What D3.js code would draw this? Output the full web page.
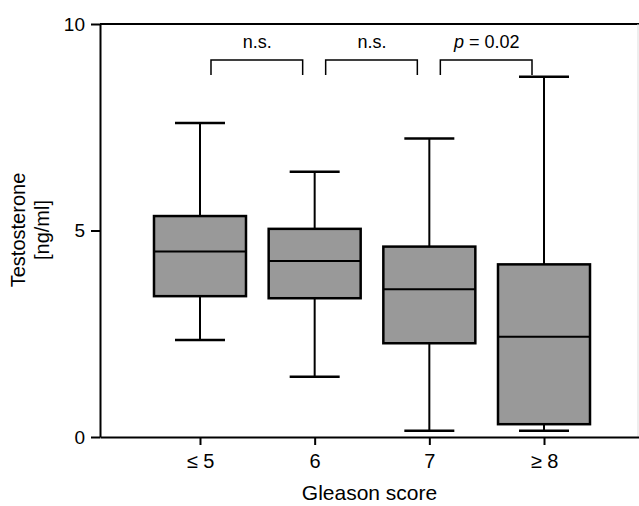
<!DOCTYPE html>
<html>
<head>
<meta charset="utf-8">
<script src="https://cdn.jsdelivr.net/npm/d3@7"></script>
<style>
body { margin: 0; background: #fff; }
text { font-family: "Liberation Sans", Arial, sans-serif; fill: #000; }
</style>
</head>
<body>
<svg width="639" height="506"></svg>
<script>
const categories = ["≤ 5", "6", "7", "≥ 8"];
const whiskerLow = [2.35, 1.46, 0.15, 0.15];
const q1 = [3.41, 3.36, 2.27, 0.31];
const medians = [4.49, 4.26, 3.58, 2.43];
const q3 = [5.35, 5.04, 4.61, 4.18];
const whiskerHigh = [7.6, 6.42, 7.23, 8.72];
const yTicks = [0, 5, 10];
const comparisons = [["≤ 5", "6", "n.s."], ["6", "7", "n.s."], ["7", "≥ 8", "p = 0.02"]];

const svg = d3.select("svg");
const width = +svg.attr("width");
const height = +svg.attr("height");
const margin = { top: 24, right: 0, bottom: 69, left: 100 };
const innerWidth = width - margin.left - margin.right;
const innerHeight = height - margin.top - margin.bottom;
const g = svg.append("g").attr("transform", "translate(" + margin.left + "," + margin.top + ")");

const x = d3.scalePoint().domain(categories).range([0, 544]).padding(0.872);
const y = d3.scaleLinear().domain([0, 10]).range([innerHeight, 0]);

const boxes = categories.map((c, i) => ({
  cat: c, lo: whiskerLow[i], q1: q1[i], med: medians[i], q3: q3[i], hi: whiskerHigh[i]
}));

// frame: top line + faint right edge
g.append("line").attr("x1", 0).attr("x2", innerWidth).attr("y1", 0).attr("y2", 0)
  .attr("stroke", "#000").attr("stroke-width", 2);
g.append("line").attr("x1", innerWidth - 1).attr("x2", innerWidth - 1).attr("y1", 0).attr("y2", innerHeight)
  .attr("stroke", "#ddd").attr("stroke-width", 1);

// axes
const yAxis = d3.axisLeft(y).tickValues(yTicks).tickSize(9).tickSizeOuter(0).tickPadding(6);
const ya = g.append("g").call(yAxis);
ya.selectAll("text").style("font-size", "19px");

const xAxis = d3.axisBottom(x).tickSize(8).tickSizeOuter(0).tickPadding(9);
const xa = g.append("g").attr("transform", "translate(0," + innerHeight + ")").call(xAxis);
xa.selectAll("text").style("font-size", "20px");

[ya, xa].forEach(a => {
  a.select(".domain").attr("stroke", "#000").attr("stroke-width", 2);
  a.selectAll(".tick line").attr("stroke", "#000").attr("stroke-width", 2);
});

// boxes
const boxW = 92, capW = 50;
const bg = g.selectAll(".box").data(boxes).enter().append("g").attr("class", "box");
bg.append("line").attr("x1", d => x(d.cat)).attr("x2", d => x(d.cat))
  .attr("y1", d => y(d.hi)).attr("y2", d => y(d.lo))
  .attr("stroke", "#000").attr("stroke-width", 2);
bg.selectAll(".cap").data(d => [[d.cat, d.hi], [d.cat, d.lo]]).enter().append("line")
  .attr("x1", d => x(d[0]) - capW / 2).attr("x2", d => x(d[0]) + capW / 2)
  .attr("y1", d => y(d[1])).attr("y2", d => y(d[1]))
  .attr("stroke", "#000").attr("stroke-width", 2.5);
bg.append("rect").attr("x", d => x(d.cat) - boxW / 2).attr("width", boxW)
  .attr("y", d => y(d.q3)).attr("height", d => y(d.q1) - y(d.q3))
  .attr("fill", "#999").attr("stroke", "#000").attr("stroke-width", 2.5);
bg.append("line").attr("x1", d => x(d.cat) - boxW / 2).attr("x2", d => x(d.cat) + boxW / 2)
  .attr("y1", d => y(d.med)).attr("y2", d => y(d.med))
  .attr("stroke", "#000").attr("stroke-width", 2);

// significance brackets
const br = g.selectAll(".bracket").data(comparisons).enter().append("g");
br.append("path")
  .attr("d", d => {
    const a = x(d[0]) + 11, b = x(d[1]) - 12;
    return "M" + a + "," + 51 + "V" + 36 + "H" + b + "V" + 51;
  })
  .attr("fill", "none").attr("stroke", "#000").attr("stroke-width", 1.5);
br.append("text")
  .attr("x", d => (x(d[0]) + x(d[1])) / 2)
  .attr("y", 24)
  .attr("text-anchor", "middle")
  .style("font-size", "18px")
  .each(function(d) {
    const t = d3.select(this);
    if (d[2].startsWith("p")) {
      t.append("tspan").style("font-style", "italic").text("p");
      t.append("tspan").text(d[2].slice(1));
    } else {
      t.text(d[2]);
    }
  });

// axis titles
svg.append("text").attr("x", margin.left + innerWidth / 2).attr("y", 500)
  .attr("text-anchor", "middle").style("font-size", "21px").text("Gleason score");
const yl = svg.append("text").attr("transform", "translate(0,230) rotate(-90)")
  .attr("text-anchor", "middle").style("font-size", "20px");
yl.append("tspan").attr("x", 0).attr("y", 25).text("Testosterone");
yl.append("tspan").attr("x", 0).attr("y", 49).text("[ng/ml]");
</script>
</body>
</html>
